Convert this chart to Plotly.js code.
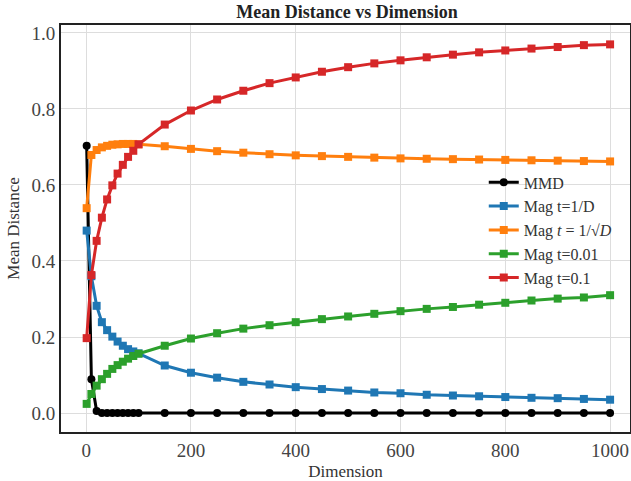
<!DOCTYPE html>
<html>
<head>
<meta charset="utf-8">
<script src="https://cdn.plot.ly/plotly-3.0.1.min.js"></script>
<style>html,body{margin:0;padding:0;background:#fff;}#chart{width:631px;height:481px;}</style>
</head>
<body>
<div id="chart"></div>
<script>
const dims = [1,10,20,30,40,50,60,70,80,90,100,150,200,250,300,350,400,450,500,550,600,650,700,750,800,850,900,950,1000];
const mmd = [0.703,0.089,0.005,0,0,0,0,0,0,0,0,0,0,0,0,0,0,0,0,0,0,0,0,0,0,0,0,0,0];
const magInvD = [0.480,0.360,0.282,0.239,0.218,0.201,0.188,0.177,0.168,0.162,0.157,0.125,0.106,0.093,0.082,0.075,0.068,0.063,0.059,0.054,0.052,0.048,0.046,0.044,0.042,0.040,0.039,0.037,0.035];
const magInvSqrtD = [0.539,0.679,0.692,0.699,0.703,0.706,0.707,0.708,0.708,0.708,0.707,0.702,0.695,0.689,0.685,0.681,0.678,0.676,0.674,0.672,0.670,0.669,0.668,0.667,0.666,0.665,0.664,0.663,0.662];
const mag001 = [0.024,0.050,0.072,0.089,0.103,0.116,0.126,0.135,0.143,0.150,0.156,0.177,0.196,0.210,0.222,0.231,0.239,0.247,0.254,0.261,0.268,0.274,0.279,0.285,0.290,0.296,0.301,0.304,0.310];
const mag01 = [0.197,0.363,0.453,0.514,0.562,0.599,0.630,0.653,0.674,0.690,0.707,0.759,0.796,0.825,0.848,0.868,0.883,0.898,0.910,0.920,0.928,0.936,0.943,0.949,0.954,0.959,0.963,0.968,0.970];
const names = ['MMD','Mag t=1/D','Mag <i>t</i> = 1/√<i>D</i>','Mag t=0.01','Mag t=0.1'];
const series = [mmd, magInvD, magInvSqrtD, mag001, mag01];
const colors = ['#000000','#1f77b4','#ff7f0e','#2ca02c','#d62728'];
const symbols = ['circle','square','square','square','square'];

const traces = series.map((ys,i)=>({
  x: dims, y: ys, name: names[i], type:'scatter', mode:'lines+markers',
  line:{color:colors[i], width:3},
  marker:{color:colors[i], symbol:symbols[i], size:8}
}));

const font = 'Liberation Serif, Times New Roman, serif';
const layout = {
  width:631, height:481,
  margin:{l:61, r:1, t:25, b:49},
  paper_bgcolor:'#fff', plot_bgcolor:'#fff',
  font:{family:font, color:'#333'},
  title:{text:'<b>Mean Distance vs Dimension</b>', x:0.55, xanchor:'center', y:0.975, yanchor:'middle', font:{family:font, size:18, color:'#222'}},
  xaxis:{range:[-48,1038], tickvals:[0,200,400,600,800,1000], showgrid:true, gridcolor:'#dddddd', gridwidth:1,
    zeroline:false, showline:true, linecolor:'#222', linewidth:2, mirror:true, ticks:'',
    tickfont:{family:font, size:19, color:'#444'},
    title:{text:'Dimension', font:{family:font, size:17, color:'#333'}, standoff:6}},
  yaxis:{range:[-0.05,1.021], tickvals:[0,0.2,0.4,0.6,0.8,1.0], ticktext:['0.0','0.2','0.4','0.6','0.8','1.0'], showgrid:true, gridcolor:'#dddddd', gridwidth:1,
    zeroline:false, showline:true, linecolor:'#222', linewidth:2, mirror:true, ticks:'',
    tickfont:{family:font, size:19, color:'#444'},
    title:{text:'Mean Distance', font:{family:font, size:17, color:'#333'}, standoff:8}},
  legend:{x:0.743, y:0.655, xanchor:'left', yanchor:'top', bgcolor:'rgba(255,255,255,0)', borderwidth:0,
    font:{family:font, size:16, color:'#333'}, tracegroupgap:0},
  showlegend:true
};
Plotly.newPlot('chart', traces, layout, {displayModeBar:false, staticPlot:true});
</script>
</body>
</html>
